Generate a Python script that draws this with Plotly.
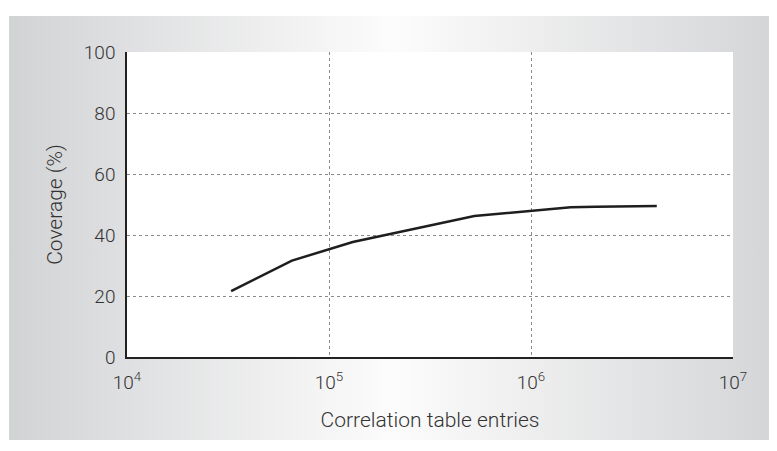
import base64
import plotly.graph_objects as go

# Data
entries = [32768, 65536, 131072, 262144, 524288, 1572864, 2097152, 4194304]
coverage = [21.6, 31.6, 37.7, 42.0, 46.2, 49.1, 49.3, 49.5]

x_tickvals = [1e4, 1e5, 1e6, 1e7]
x_ticktext = ["10<sup>4</sup>", "10<sup>5</sup>", "10<sup>6</sup>", "10<sup>7</sup>"]
y_tickvals = [0, 20, 40, 60, 80, 100]

# page has an 8px body margin, so figure coords = page coords - 8
W, H = 769, 443
L, R, T, B = 119, 44, 44, 94
pw = W - L - R
ph = H - T - B

svg = (
    '<svg xmlns="http://www.w3.org/2000/svg" width="100" height="100" preserveAspectRatio="none">'
    '<defs><linearGradient id="g" x1="0" y1="0" x2="1" y2="0">'
    '<stop offset="0" stop-color="#d2d3d5"/>'
    '<stop offset="0.5" stop-color="#fcfcfc"/>'
    '<stop offset="1" stop-color="#d4d5d7"/>'
    '</linearGradient></defs>'
    '<rect width="100" height="100" fill="url(#g)"/></svg>'
)
src = "data:image/svg+xml;base64," + base64.b64encode(svg.encode()).decode()

def px_x(p):
    return (p - L) / pw

def px_y(p):
    return (H - B - p) / ph

fig = go.Figure()
fig.add_trace(go.Scatter(
    x=entries, y=coverage, mode="lines",
    line=dict(color="#1e1e1e", width=2.5),
    showlegend=False, hoverinfo="skip",
))

fig.add_layout_image(dict(
    source=src, xref="paper", yref="paper",
    x=px_x(1), y=px_y(8),
    sizex=px_x(769) - px_x(1), sizey=px_y(8) - px_y(432),
    xanchor="left", yanchor="top", sizing="stretch", layer="below",
))

fig.add_shape(type="rect", xref="paper", yref="paper", x0=0, x1=1, y0=0, y1=1,
              fillcolor="white", line=dict(width=0), layer="below")

tick_font = dict(family="Roboto, Liberation Sans, Arial, sans-serif", size=19,
                 color="#333333", weight=300)
title_font = dict(family="Roboto, Liberation Sans, Arial, sans-serif", size=21,
                  color="#333333", weight=300)

fig.update_layout(
    width=W, height=H,
    margin=dict(l=L, r=R, t=T, b=B),
    paper_bgcolor="white", plot_bgcolor="white",
    font=tick_font,
    xaxis=dict(
        type="log", range=[4, 7],
        tickvals=x_tickvals, ticktext=x_ticktext,
        showgrid=True, gridcolor="#8a8a8a", griddash="dot", gridwidth=1,
        showline=True, linecolor="#222222", linewidth=1.5,
        ticks="outside", ticklen=7, tickcolor="rgba(0,0,0,0)",
        tickfont=tick_font,
        zeroline=False,
        title=dict(text="Correlation table entries", standoff=20, font=title_font),
    ),
    yaxis=dict(
        range=[0, 100], tickvals=y_tickvals,
        showgrid=True, gridcolor="#8a8a8a", griddash="dot", gridwidth=1,
        showline=True, linecolor="#222222", linewidth=1.5,
        ticks="outside", ticklen=6, tickcolor="rgba(0,0,0,0)",
        tickfont=tick_font,
        zeroline=False,
        title=dict(text="Coverage (%)", standoff=15, font=title_font),
    ),
)

fig.write_html("out.html")
